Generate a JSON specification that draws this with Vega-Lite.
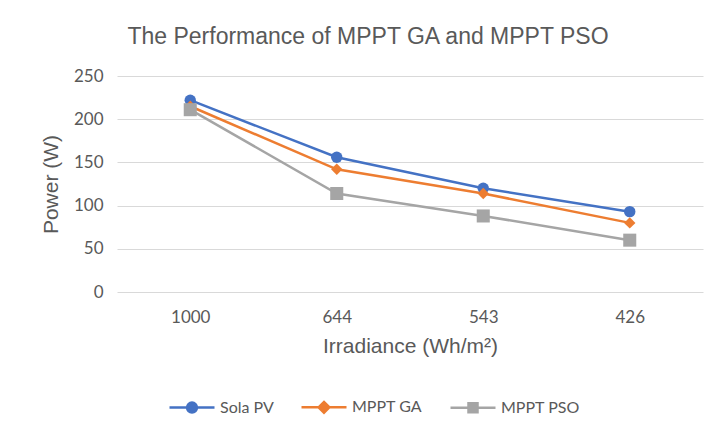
{
  "$schema": "https://vega.github.io/schema/vega-lite/v6.json",
  "autosize": "none",
  "width": 586,
  "height": 216,
  "padding": {"left": 117, "top": 76, "right": 12, "bottom": 138},
  "background": "white",
  "title": {
    "text": "The Performance of MPPT GA and MPPT PSO",
    "font": "Liberation Sans",
    "fontSize": 23,
    "fontWeight": "normal",
    "color": "#595959",
    "anchor": "middle",
    "offset": 18,
    "dx": -42
  },
  "config": {
    "view": {"stroke": null},
    "axis": {
      "labelFont": "Lato",
      "labelFontSize": 17,
      "labelColor": "#595959",
      "titleFont": "Liberation Sans",
      "titleFontSize": 21,
      "titleFontWeight": "normal",
      "titleColor": "#595959",
      "gridColor": "#d9d9d9",
      "gridWidth": 1
    },
    "legend": {
      "labelFont": "Lato",
      "labelFontSize": 16,
      "labelColor": "#595959"
    }
  },
  "data": {
    "values": [
      {"irr": "1000", "series": "Sola PV", "power": 222},
      {"irr": "644", "series": "Sola PV", "power": 156},
      {"irr": "543", "series": "Sola PV", "power": 120},
      {"irr": "426", "series": "Sola PV", "power": 93},
      {"irr": "1000", "series": "MPPT GA", "power": 215},
      {"irr": "644", "series": "MPPT GA", "power": 142},
      {"irr": "543", "series": "MPPT GA", "power": 114},
      {"irr": "426", "series": "MPPT GA", "power": 80},
      {"irr": "1000", "series": "MPPT PSO", "power": 211},
      {"irr": "644", "series": "MPPT PSO", "power": 114},
      {"irr": "543", "series": "MPPT PSO", "power": 88},
      {"irr": "426", "series": "MPPT PSO", "power": 60}
    ]
  },
  "encoding": {
    "x": {
      "field": "irr",
      "type": "ordinal",
      "sort": ["1000", "644", "543", "426"],
      "scale": {"type": "point", "padding": 0.5},
      "axis": {
        "title": "Irradiance (Wh/m²)",
        "labelAngle": 0,
        "labelPadding": 17,
        "titlePadding": 10,
        "ticks": false,
        "domain": false,
        "grid": false
      }
    },
    "y": {
      "field": "power",
      "type": "quantitative",
      "scale": {"domain": [0, 250]},
      "axis": {
        "title": "Power (W)",
        "values": [0, 50, 100, 150, 200, 250],
        "ticks": false,
        "domain": false,
        "labelPadding": 14,
        "titlePadding": 12
      }
    },
    "color": {
      "field": "series",
      "type": "nominal",
      "sort": ["Sola PV", "MPPT GA", "MPPT PSO"],
      "scale": {
        "domain": ["Sola PV", "MPPT GA", "MPPT PSO"],
        "range": ["#4472C4", "#ED7D31", "#A5A5A5"]
      },
      "legend": {
        "title": null,
        "orient": "none",
        "direction": "horizontal",
        "legendX": 51,
        "legendY": 307,
        "symbolSize": 2025,
        "symbolStrokeWidth": 2.5,
        "symbolOpacity": 1,
        "labelOffset": 4,
        "columnPadding": 22,
        "encode": {
          "symbols": {
            "update": {
              "shape": {"signal": "datum.value === 'Sola PV' ? 'M-1,0H-0.22A0.22,0.22 0 1,1 0.22,0A0.22,0.22 0 1,1 -0.22,0M0.22,0H1' : datum.value === 'MPPT GA' ? 'M-1,0H-0.24L0,-0.24L0.24,0L0,0.24L-0.24,0M0.24,0H1' : 'M-1,0H-0.2V-0.2H0.2V0.2H-0.2V0M0.2,0H1'"},
              "fill": {"scale": "color", "field": "value"},
              "stroke": {"scale": "color", "field": "value"},
              "strokeWidth": {"value": 2.5},
              "size": {"value": 2025},
              "opacity": {"value": 1}
            }
          }
        }
      }
    }
  },
  "layer": [
    {
      "mark": {"type": "line", "strokeWidth": 2.5}
    },
    {
      "transform": [{"filter": "datum.series === 'Sola PV'"}],
      "mark": {"type": "point", "filled": true, "opacity": 1, "shape": "circle", "size": 130}
    },
    {
      "transform": [{"filter": "datum.series === 'MPPT GA'"}],
      "mark": {"type": "point", "filled": true, "opacity": 1, "shape": "diamond", "size": 130}
    },
    {
      "transform": [{"filter": "datum.series === 'MPPT PSO'"}],
      "mark": {"type": "point", "filled": true, "opacity": 1, "shape": "square", "size": 170}
    }
  ]
}
